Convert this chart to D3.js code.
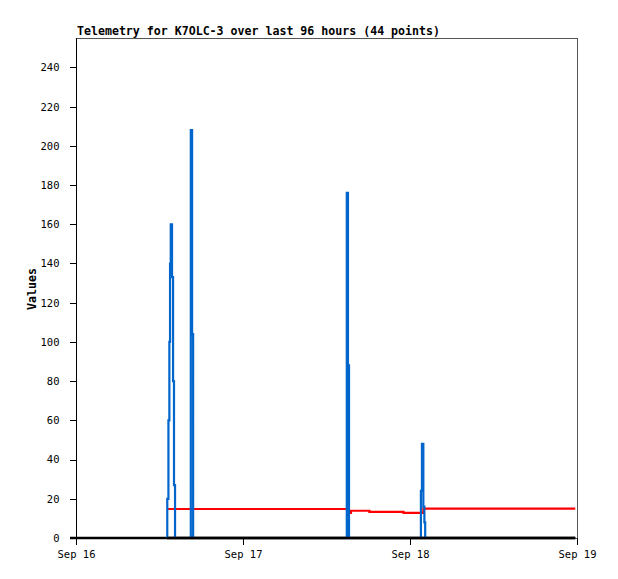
<!DOCTYPE html>
<html>
<head>
<meta charset="utf-8">
<script src="https://cdn.jsdelivr.net/npm/d3@7"></script>
<style>
  body { margin: 0; background: #fff; }
  svg { display: block; }
  text { font-family: "DejaVu Sans Mono", "Liberation Mono", monospace; }
</style>
</head>
<body>
<svg id="chart" width="618" height="579"></svg>
<script>
// ---- data ----
const title = "Telemetry for K7OLC-3 over last 96 hours (44 points)";
const yLabel = "Values";
const times = [
  "2024-09-16T13:04", "2024-09-16T13:07", "2024-09-16T13:17", "2024-09-16T13:25",
  "2024-09-16T13:31", "2024-09-16T13:37", "2024-09-16T13:48", "2024-09-16T13:57",
  "2024-09-16T14:05", "2024-09-16T14:14",
  "2024-09-16T16:30", "2024-09-16T16:41", "2024-09-16T16:50",
  "2024-09-17T14:55", "2024-09-17T15:05", "2024-09-17T15:14", "2024-09-17T15:31",
  "2024-09-17T18:10", "2024-09-17T23:04",
  "2024-09-18T01:34", "2024-09-18T01:43", "2024-09-18T01:55", "2024-09-18T02:04",
  "2024-09-18T02:11", "2024-09-18T23:45"
];
const blueValues = [
  0, 20, 60, 100,
  140, 160, 133, 80,
  27, 0,
  208, 104, 0,
  176, 88, 0, 0,
  0, 0,
  24, 48, 16, 8,
  0, 0
];
const redValues = [
  14.8, 14.8, 14.8, 14.8,
  14.8, 14.8, 14.8, 14.8,
  14.8, 14.8,
  14.8, 14.8, 14.8,
  14.8, 13.8, 12.8, 13.9,
  13.3, 12.8,
  12.8, 12.8, 15.0, 15.0,
  15.0, 15.0
];
const blackValues = times.map(() => 0);
const yTicks = [0, 20, 40, 60, 80, 100, 120, 140, 160, 180, 200, 220, 240];
const xTicks = ["2024-09-16T00:00", "2024-09-17T00:00", "2024-09-18T00:00", "2024-09-19T00:00"];
const yMax = 255;

// ---- layout ----
const svg = d3.select("#chart");
const mLeft = 76, mRight = 577, mTop = 38, mBottom = 538;
const parse = d3.timeParse("%Y-%m-%dT%H:%M");
const x = d3.scaleTime()
  .domain([parse(xTicks[0]), parse(xTicks[xTicks.length - 1])])
  .range([mLeft, mRight]);
const y = d3.scaleLinear().domain([0, yMax]).range([mBottom, mTop]);

// frame (top & right in gray)
svg.append("rect")
  .attr("x", mLeft + 0.5).attr("y", mTop + 0.5)
  .attr("width", mRight - mLeft).attr("height", mBottom - mTop)
  .attr("fill", "none").attr("stroke", "#555").attr("stroke-width", 1)
  .attr("shape-rendering", "crispEdges");

// title
svg.append("text")
  .attr("x", 77).attr("y", 35)
  .attr("font-size", "11.6px").attr("font-weight", "bold")
  .attr("fill", "#000")
  .text(title);

// y label
svg.append("text")
  .attr("transform", "translate(36,289) rotate(-90)")
  .attr("text-anchor", "middle")
  .attr("font-size", "11.6px").attr("font-weight", "bold")
  .text(yLabel);

// y axis
const yAxis = d3.axisLeft(y).tickValues(yTicks).tickSize(7).tickPadding(10)
  .tickFormat(d3.format("d"));
const gy = svg.append("g").attr("transform", `translate(${mLeft + 0.5},0)`).call(yAxis);
gy.selectAll("text").attr("font-size", "10.5px").attr("font-family", "DejaVu Sans Mono, monospace").attr("fill", "#000");
gy.selectAll("line, path").attr("stroke", "#000").attr("shape-rendering", "crispEdges");
gy.select(".domain").remove();
svg.append("line").attr("x1", mLeft + 0.5).attr("x2", mLeft + 0.5).attr("y1", mTop).attr("y2", mBottom)
  .attr("stroke", "#000").attr("shape-rendering", "crispEdges");

// x axis
const xAxis = d3.axisBottom(x).tickValues(xTicks.map(parse)).tickSize(7).tickPadding(6)
  .tickFormat(d3.timeFormat("%b %d"));
const gx = svg.append("g").attr("transform", `translate(0,${mBottom})`).call(xAxis);
gx.select(".domain").remove();
gx.selectAll("text").attr("font-size", "10.5px").attr("font-family", "DejaVu Sans Mono, monospace").attr("fill", "#000");
gx.selectAll("line").attr("stroke", "#000").attr("shape-rendering", "crispEdges");

// series
const rows = times.map((t, i) => ({ t: parse(t), blue: blueValues[i], red: redValues[i], black: blackValues[i] }));
const lineOf = key => d3.line().x(d => x(d.t)).y(d => y(d[key])).curve(d3.curveStepAfter);

// bottom baseline (thick black)
svg.append("line")
  .attr("x1", mLeft - 6).attr("x2", x(rows[rows.length - 1].t))
  .attr("y1", mBottom).attr("y2", mBottom)
  .attr("stroke", "#000").attr("stroke-width", 2.5);

svg.append("path").datum(rows)
  .attr("fill", "none").attr("stroke", "#ff0000").attr("stroke-width", 2.2)
  .attr("d", lineOf("red"));
svg.append("path").datum(rows)
  .attr("fill", "none").attr("stroke", "#0066cc").attr("stroke-width", 2.2)
  .attr("d", lineOf("blue"));
svg.append("path").datum(rows)
  .attr("fill", "none").attr("stroke", "#000").attr("stroke-width", 2.5)
  .attr("d", lineOf("black"));
</script>
</body>
</html>
